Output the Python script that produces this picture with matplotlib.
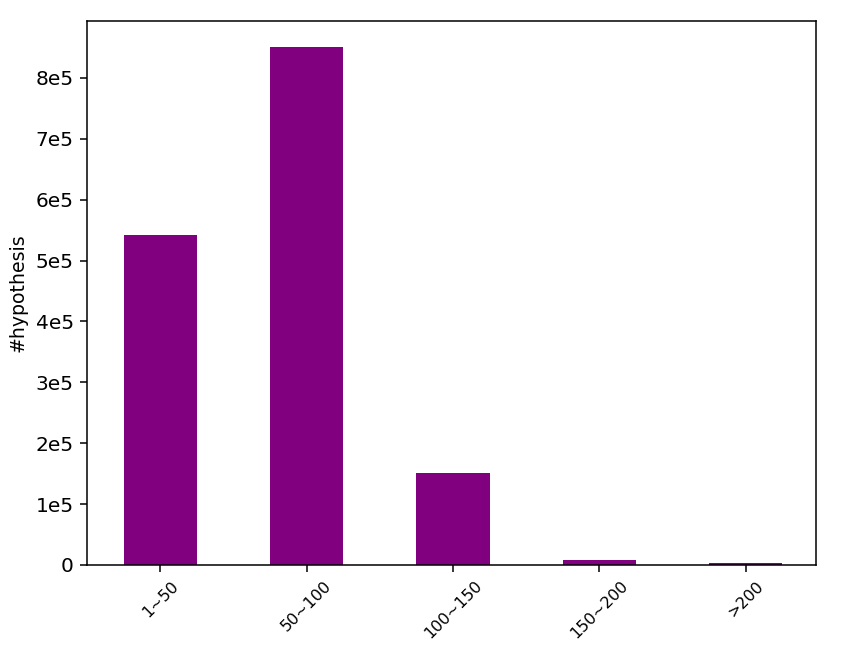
import numpy as np
import matplotlib
matplotlib.use("Agg")
import matplotlib.pyplot as plt
from matplotlib.ticker import FuncFormatter

ranges = ["1~50", "50~100", "100~150", "150~200", ">200"]
counts = [541500, 851000, 151500, 8200, 3300]

fig = plt.figure(figsize=(8.57, 6.49), dpi=100)
ax = fig.add_axes([87 / 857, 1 - 565 / 649, (816 - 87) / 857, (565 - 21) / 649])

x = np.arange(len(ranges))
ax.bar(x, counts, width=0.5, color="purple")
ax.set_xlim(-0.5, 4.48)

ax.set_xticks(x)
ax.set_xticklabels(ranges, rotation=45, fontsize=11.5)
ax.yaxis.set_major_formatter(FuncFormatter(lambda v, p: "0" if v == 0 else "%de5" % round(v / 1e5)))
ax.tick_params(axis="y", labelsize=14.5)
ax.tick_params(length=5, width=1.1, pad=4.5)
for s in ax.spines.values():
    s.set_linewidth(1.1)
ax.set_ylabel("#hypothesis", fontsize=13.6, labelpad=6)

fig.savefig("out.png", dpi=100)
